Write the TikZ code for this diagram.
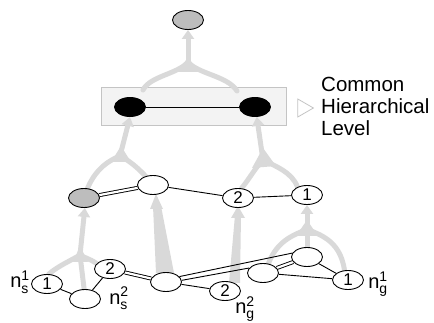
\documentclass[tikz,border=0pt]{standalone}
\usepackage{fontspec}
\setmainfont{Liberation Sans}
\usepackage{amsmath}
\usetikzlibrary{shapes.geometric,arrows.meta}
\definecolor{flow}{HTML}{D9D9D9}
\definecolor{panel}{HTML}{F3F3F3}
\definecolor{frame}{HTML}{C4C4C4}
\definecolor{shade}{HTML}{BDBDBD}
\pgfdeclarelayer{back}
\pgfdeclarelayer{mid}
\pgfsetlayers{back,mid,main}
\newcommand\nlab[2]{n$^{\text{#2}}_{\text{#1}}$}
\begin{document}
\begin{tikzpicture}[x=1pt,y=-1pt,
  state/.style={ellipse,draw,fill=white,line width=0.9pt,minimum width=31pt,
    minimum height=19pt,inner sep=0pt,font=\fontsize{17}{17}\selectfont},
  grey/.style={state,fill=shade},
  dark/.style={state,fill=black},
  link/.style={line width=0.9pt},
  dlink/.style={line width=0.9pt,double,double distance=2.2pt},
  arm/.style={draw=flow,line width=5pt,line cap=round},
  stem/.style={draw=flow,line width=5pt,-{Triangle[width=12pt,length=9pt]}},
  taper/.style={fill=flow},
  lab/.style={font=\fontsize{20}{20}\selectfont,inner sep=0pt}]
\useasboundingbox (0,0) rectangle (434,323);

% hierarchical levels
\node[grey] (top) at (188,20) {};
\node[dark] (L) at (130,107) {};
\node[dark] (R) at (255,107) {};

\node[grey]  (m1) at (84,198) {};
\node[state] (m2) at (153,185) {};
\node[state] (m3) at (238,198) {\raisebox{-1pt}{2}};
\node[state] (m4) at (307,195) {1};

\node[state] (b1) at (47,284) {1};
\node[state] (b2) at (85,299) {};
\node[state] (b3) at (110,269) {2};
\node[state] (b4) at (166,282) {};
\node[state] (b5) at (225,291) {2};
\node[state] (b6) at (263,273) {};
\node[state] (b7) at (307,257) {};
\node[state] (b8) at (348,280) {1};

% node labels
\node[lab] (ls1) at (20,282) {\nlab{s}{1}};
\node[lab] (ls2) at (119,298) {\nlab{s}{2}};
\node[lab] (lg2) at (245,309) {\nlab{g}{2}};
\node[lab] (lg1) at (378,284) {\nlab{g}{1}};

% common level panel and caption
\begin{pgfonlayer}{back}
  \draw[frame,fill=panel,line width=1pt] (101,88) rectangle (286,126);
\end{pgfonlayer}
\node[draw=frame,fill=white,isosceles triangle,isosceles triangle apex angle=60,
  minimum height=10pt,minimum width=18pt,inner sep=0pt,line width=0.8pt] (mark) at (303,108) {};
\node[anchor=west,align=left,inner sep=0pt,
  font=\fontsize{20.5}{22}\selectfont] (cap) at (321,106) {Common\\Hierarchical\\Level};

% abstraction flows
\begin{pgfonlayer}{mid}
  % panel to top
  \coordinate (j0) at (188,62);
  \draw[arm] (143,90) .. controls (150,76) and (178,74) .. (j0);
  \draw[arm] (237,91) .. controls (228,76) and (198,74) .. (j0);
  \fill[flow] (176,72) -- (188,58) -- (200,72) -- cycle;
  \draw[stem] (j0) -- (top.south);

  % second level to panel
  \coordinate (j1) at (120,156);
  \draw[arm] (m1.70) .. controls (96,168) and (110,160) .. (j1);
  \draw[arm] (m2.130) .. controls (136,166) and (128,160) .. (j1);
  \fill[flow] (111,162) -- (121,146) -- (131,162) -- cycle;
  \draw[stem] (j1) -- (L.south);

  \coordinate (j2) at (263,160);
  \draw[arm] (m3.70) .. controls (250,178) and (255,168) .. (j2);
  \draw[arm] (m4.140) .. controls (292,172) and (275,166) .. (j2);
  \fill[flow] (252,168) -- (263,148) -- (276,166) -- cycle;
  \draw[stem] (j2) -- (R.-80);

  % first level to second level
  \coordinate (j3) at (80,255);
  \draw[arm] (b1.80) .. controls (58,266) and (72,260) .. (j3);
  \draw[arm] (b2.95) -- (j3);
  \draw[arm] (96,263) .. controls (90,259) and (85,258) .. (j3);
  \fill[flow] (73,262) -- (80,246) -- (88,262) -- cycle;
  \draw[stem] (j3) -- (m1.-85);

  \fill[taper] (156,273) -- (174,273) -- (161,206) -- (153,206) -- cycle;
  \fill[taper] (150,209) -- (156,194) -- (163,209) -- cycle;

  \fill[taper] (229,283) -- (240,283) -- (241,215) -- (235,215) -- cycle;
  \fill[taper] (231,218) -- (238,206) -- (245,218) -- cycle;

  \coordinate (j4) at (307,229);
  \draw[arm] (b6.60) .. controls (278,238) and (298,234) .. (j4);
  \draw[arm] (b8.110) .. controls (340,238) and (316,234) .. (j4);
  \draw[arm] (b7.north) -- (j4);
  \fill[flow] (296,236) -- (307,220) -- (318,236) -- cycle;
  \draw[stem] (j4) -- (m4.south);
\end{pgfonlayer}

% links within levels
\begin{pgfonlayer}{mid}
  \draw[link] (L) -- (R);
  \draw[dlink] (m1) -- (m2);
  \draw[link] (m2) -- (m3);
  \draw[link] (m3) -- (m4);
  \draw[link] (b1) -- (b2);
  \draw[link] (b2) -- (b3);
  \draw[dlink] (b3) -- (b4);
  \draw[link] (b4.22) -- (b7.165);
  \draw[link] (b4.6) -- (b6.160);
  \draw[link] (b4) -- (b5);
  \draw[dlink] (b6) -- (b7);
  \draw[link] (b6) -- (b8);
  \draw[link] (b7) -- (b8);
\end{pgfonlayer}
\end{tikzpicture}
\end{document}
